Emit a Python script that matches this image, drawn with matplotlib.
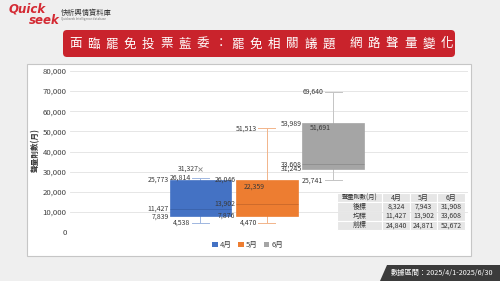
import matplotlib
matplotlib.use("Agg")
import matplotlib.pyplot as plt
from matplotlib.patches import Rectangle, FancyBboxPatch, Polygon, Patch
from matplotlib.ticker import FuncFormatter

plt.rcParams['font.family'] = ['Noto Sans CJK TC', 'DejaVu Sans']

# data
months = ['4月', '5月', '6月']
mins = [4538, 4470, 25741]
q1s = [7839, 7876, 31245]
medians = [11427, 13902, 33608]
q3s = [25773, 26046, 53989]
maxs = [26814, 51513, 69640]
means = [31327, 22359, 51691]

table_cols = ['聲量則數(月)', '4月', '5月', '6月']
table_rows = ['後標', '均標', '前標']
table_vals = [[8324, 7943, 31908],
              [11427, 13902, 33608],
              [24840, 24871, 52672]]

title = '面臨罷免投票藍委：罷免相關議題 網路聲量變化'
period = '數據區間：2025/4/1-2025/6/30'

colors = ['#4472C4', '#ED7D31', '#A5A5A5']
light = ['#9fb6e0', '#f2b48a', '#c4c4c4']
dark = ['#3a62aa', '#c8682a', '#8c8c8c']

fig = plt.figure(figsize=(5, 2.81), dpi=100)
fig.patch.set_facecolor('#efefef')

# background layer in pixel coordinates
bg = fig.add_axes([0, 0, 1, 1], zorder=0)
bg.set_xlim(0, 500)
bg.set_ylim(281, 0)
bg.axis('off')

bg.add_patch(Rectangle((27, 64), 444, 192, facecolor='white', edgecolor='#c6c6c6', lw=0.8))
bg.add_patch(FancyBboxPatch((63, 30), 392, 27, boxstyle='round,pad=0,rounding_size=4',
                            facecolor='#c9232c', edgecolor='none'))

# title, spaced characters
x = 75
for ch in title:
    if ch == ' ':
        x += 8.3
        continue
    bg.text(x, 44, ch, color='white', fontsize=9, ha='center', va='center')
    x += 16 if ch == '：' else 18.3

# logo
bg.text(9, 8.5, 'Quick', color='#d42a33', fontsize=8.5, fontweight='bold', style='italic',
        family='DejaVu Sans', ha='left', va='center')
bg.text(29, 20, 'seek', color='#d42a33', fontsize=8.5, fontweight='bold', style='italic',
        family='DejaVu Sans', ha='left', va='center')
bg.text(61, 13, '快析輿情資料庫', color='#333333', fontsize=5.2, ha='left', va='center')
bg.text(61, 19, 'Quickseek Intelligence database', color='#777777', fontsize=2.2,
        ha='left', va='center')

# footer tag
bg.add_patch(Polygon([(380, 281), (387, 265), (500, 265), (500, 281)], closed=True,
                     facecolor='#3b3b3b', edgecolor='none'))
bg.text(442, 273.5, period, color='white', fontsize=5.2, ha='center', va='center')

# y label
bg.text(35, 150, '聲量則數(月)', rotation=90, fontsize=5.5, fontweight='bold',
        color='#333333', ha='center', va='center')

# main chart
ax = fig.add_axes([70 / 500, 1 - 232 / 281, 398 / 500, 161 / 281], zorder=1)
ax.patch.set_alpha(0)
ax.set_xlim(0.033, 6.033)
ax.set_ylim(0, 80000)

pos = [2, 3, 4]
w = 0.93
cap = 0.13
stats = []
for i in range(3):
    stats.append({'med': medians[i], 'q1': q1s[i], 'q3': q3s[i], 'whislo': mins[i],
                  'whishi': maxs[i], 'mean': means[i], 'fliers': []})
bp = ax.bxp(stats, positions=pos, widths=w, capwidths=2 * cap, patch_artist=True,
            showmeans=True, manage_ticks=False)
for i in range(3):
    bp['boxes'][i].set(facecolor=colors[i], edgecolor=colors[i], lw=0.5, zorder=3)
    bp['medians'][i].set(color=dark[i], lw=0.6, zorder=4)
    bp['means'][i].set(marker='x', markersize=2.5, markeredgecolor='#8a8a8a',
                       markeredgewidth=0.6, zorder=2)
    for ln in bp['whiskers'][2 * i:2 * i + 2] + bp['caps'][2 * i:2 * i + 2]:
        ln.set(color=light[i], lw=0.7, zorder=2)

ax.set_xticks([])
ax.set_yticks(range(0, 80001, 10000))
ax.yaxis.set_major_formatter(FuncFormatter(lambda v, p: f'{int(v):,}'))
ax.tick_params(axis='y', length=0, pad=2.5, labelsize=5.6, labelcolor='#404040')
for s in ax.spines.values():
    s.set_visible(False)
ax.grid(axis='y', color='#e2e2e2', lw=0.6)
ax.set_axisbelow(True)

lab = dict(fontsize=5, color='#3a3a3a', va='center', ha='right')
for i, p in enumerate(pos):
    left = p - w / 2 - 0.01
    ax.text(left, q3s[i], f'{q3s[i]:,}', **lab)
    ax.text(left, q1s[i], f'{q1s[i]:,}', **lab)
    ax.text(left, medians[i], f'{medians[i]:,}', **lab)
    ax.text(p - cap - 0.02, maxs[i], f'{maxs[i]:,}', **lab)
    ax.text(p - cap - 0.02, mins[i], f'{mins[i]:,}', **lab)
    ax.text(p - 0.03, means[i], f'{means[i]:,}', **lab)

handles = [Patch(facecolor=c, edgecolor='none') for c in colors]
ax.legend(handles, months, loc='center', bbox_to_anchor=(0.447, -0.08), ncol=3,
          frameon=False, fontsize=5.5, handlelength=0.7, handleheight=0.7,
          handletextpad=0.3, columnspacing=0.8, labelcolor='#404040')

cell_text = [table_cols] + [[r] + [f'{v:,}' for v in row] for r, row in zip(table_rows, table_vals)]
tb = ax.table(cellText=cell_text, cellLoc='center',
              colWidths=[45 / 398, 28 / 398, 27 / 398, 28 / 398],
              bbox=[(337 - 70) / 398, 2 / 161, 128 / 398, 37 / 161])
tb.auto_set_font_size(False)
tb.set_fontsize(5)
for (r, c), cell in tb.get_celld().items():
    cell.set_facecolor('#e6e6e6')
    cell.set_edgecolor('white')
    cell.set_linewidth(0.8)
    cell.get_text().set_color('#333333')
tb[0, 0].get_text().set_fontsize(4.5)

fig.savefig('out.png', dpi=100, facecolor=fig.get_facecolor())
